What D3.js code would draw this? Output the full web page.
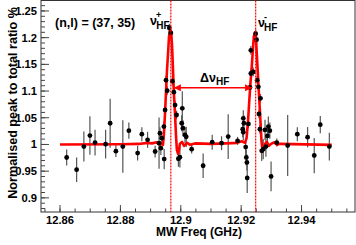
<!DOCTYPE html>
<html>
<head>
<meta charset="utf-8">
<script src="https://cdn.jsdelivr.net/npm/d3@7"></script>
<style>
  body { margin: 0; background: #fff; }
  svg text { font-family: "Liberation Sans", Arial, Helvetica, sans-serif; font-weight: bold; }
</style>
</head>
<body>
<div id="chart"></div>
<script>
// measured points: MW frequency (GHz), normalised ratio, error
var freq = [12.8622, 12.8655, 12.8679, 12.8699, 12.8716, 12.8751, 12.8766, 12.8785, 12.8808, 12.8828,
  12.8857, 12.8871, 12.8890, 12.8915, 12.8928, 12.8931, 12.8937, 12.8934, 12.8945,
  12.8944, 12.8948, 12.8951, 12.8955, 12.8962, 12.8967, 12.8972, 12.8977, 12.8981, 12.8986, 12.8992,
  12.9005, 12.9003, 12.9007, 12.9014, 12.9018, 12.8997, 12.9036, 12.9074, 12.9104, 12.9135,
  12.9157, 12.9188, 12.9205, 12.9209, 12.9207, 12.9215, 12.9217, 12.9219, 12.9220,
  12.9224, 12.9229, 12.9232, 12.9232, 12.9248, 12.9251, 12.9253, 12.9257, 12.9264, 12.9259, 12.9262,
  12.9240, 12.9207,
  12.9268, 12.9273, 12.9279, 12.9282, 12.9287, 12.9290, 12.9295, 12.9299, 12.9318, 12.9354,
  12.9386, 12.9420, 12.9442, 12.9462, 12.9492];
var ratio = [0.9756, 0.9527, 0.9961, 1.0166, 1.0035, 1.0006, 1.0397, 0.9875, 0.9961, 1.0259,
  0.9838, 1.0192, 1.0086, 0.9868, 1.0024, 1.0210, 1.0117, 0.9931, 0.9726,
  1.0334, 1.0645, 1.1204, 1.1008, 1.2182, 1.2089, 1.1185, 1.0980, 1.0738, 1.0552, 0.9732,
  1.0676, 1.0397, 1.0304, 1.0179, 1.0142, 0.9760, 0.9912, 0.9601, 1.0043, 1.0024,
  1.0147, 1.0067, 1.0285, 1.0397, 1.0229, 0.9950, 0.9756, 0.9663, 0.9372,
  1.0384, 1.1068, 1.1329, 1.1763, 1.2074, 1.1962, 1.1204, 1.1079, 1.0863, 1.0570, 1.0285,
  1.1359, 1.0490,
  0.9881, 0.9912, 1.0272, 0.9961, 1.0160, 1.0334, 1.0259, 0.9402, 1.0035, 0.9980,
  1.0192, 1.0136, 0.9793, 1.0371, 0.9961];
var err = [0.015, 0.023, 0.028, 0.036, 0.024, 0.027, 0.046, 0.011, 0.049, 0.015,
  0.014, 0.013, 0.015, 0.011, 0.048, 0.011, 0.011, 0.013, 0.019,
  0.009, 0.008, 0.008, 0.008, 0.008, 0.008, 0.008, 0.008, 0.008, 0.008, 0.015,
  0.032, 0.015, 0.015, 0.015, 0.019, 0.019, 0.008, 0.023, 0.014, 0.013,
  0.042, 0.0075, 0.015, 0.015, 0.015, 0.015, 0.015, 0.015, 0.028,
  0.008, 0.008, 0.008, 0.008, 0.008, 0.008, 0.008, 0.008, 0.008, 0.008, 0.008,
  0.008, 0.015,
  0.019, 0.019, 0.019, 0.019, 0.019, 0.019, 0.015, 0.028, 0.0075, 0.057,
  0.013, 0.019, 0.033, 0.016, 0.026];

// fitted curve
var fitFreq = [12.8600, 12.8800, 12.8860, 12.8890, 12.8905, 12.8920, 12.8930, 12.8938,
  12.8941, 12.8944, 12.8948, 12.8951, 12.8954, 12.8958, 12.8961, 12.8964, 12.8968, 12.8971,
  12.8974, 12.8977, 12.8981, 12.8984, 12.8987, 12.8991, 12.8994, 12.8997, 12.9004, 12.9011,
  12.9021, 12.9031, 12.9047, 12.9100, 12.9150, 12.9186, 12.9202, 12.9213,
  12.9218, 12.9223, 12.9227, 12.9231, 12.9235, 12.9239, 12.9242, 12.9246, 12.9249, 12.9252,
  12.9256, 12.9260, 12.9264, 12.9267, 12.9271, 12.9274, 12.9279, 12.9285, 12.9292, 12.9299,
  12.9309, 12.9319, 12.9328, 12.9500];
var fitRatio = [1.0000, 1.0005, 1.0010, 1.0030, 1.0020, 1.0040, 1.0000, 1.0020,
  0.9993, 1.0179, 1.0608, 1.0980, 1.1353, 1.1726, 1.2024, 1.2136, 1.2117, 1.1856,
  1.1427, 1.0980, 1.0552, 1.0179, 0.9899, 0.9825, 0.9899, 1.0011, 1.0048, 0.9974,
  1.0030, 0.9993, 1.0020, 1.0010, 1.0020, 1.0030, 1.0060, 1.0030,
  1.0123, 1.0458, 1.0831, 1.1167, 1.1447, 1.1800, 1.2024, 1.2098, 1.1986, 1.1669,
  1.1241, 1.0831, 1.0421, 1.0086, 0.9862, 0.9899, 1.0011, 1.0048, 0.9974, 1.0011,
  1.0039, 0.9993, 1.0011, 0.9993];

var peakFreq = [12.8967, 12.9248];
var arrowFreq = [12.8977, 12.9236];
var arrowRatio = 1.1063;

var xTicks = [12.86, 12.88, 12.90, 12.92, 12.94];
var xTickLabels = ["12.86", "12.88", "12.9", "12.92", "12.94"];
var yTicks = [0.90, 0.95, 1.00, 1.05, 1.10, 1.15, 1.20, 1.25];
var yTickLabels = ["0.9", "0.95", "1", "1.05", "1.1", "1.15", "1.2", "1.25"];

var margin = { top: 0.5, right: 1, bottom: 33, left: 41 };
var width = 356 - margin.left - margin.right,
  height = 245 - margin.top - margin.bottom;

var svg = d3.select("#chart").append("svg")
  .attr("width", 356)
  .attr("height", 245);

var g = svg.append("g")
  .attr("transform", "translate(" + margin.left + "," + margin.top + ")");

var x = d3.scaleLinear().domain([12.8537, 12.9577]).range([0, width]);
var y = d3.scaleLinear().domain([0.8735, 1.2696]).range([height, 0]);

// frame
g.append("rect")
  .attr("x", 0).attr("y", 0)
  .attr("width", width).attr("height", height)
  .style("fill", "none").style("stroke", "#333").style("stroke-width", 1);

// x ticks
var xMinor = d3.range(0, 21).map(function(i) { return 12.855 + i * 0.005; })
  .filter(function(v) { return v > x.domain()[0] && v < x.domain()[1]; });
g.selectAll(".xminor").data(xMinor).enter().append("line")
  .attr("x1", function(d) { return x(d); }).attr("x2", function(d) { return x(d); })
  .attr("y1", height).attr("y2", height - 3.5)
  .style("stroke", "#444");
g.selectAll(".xmajor").data(xTicks).enter().append("line")
  .attr("x1", function(d) { return x(d); }).attr("x2", function(d) { return x(d); })
  .attr("y1", height).attr("y2", height - 7)
  .style("stroke", "#444");
g.selectAll(".xlab").data(xTicks).enter().append("text")
  .attr("x", function(d) { return x(d); })
  .attr("y", height + 11.5)
  .attr("text-anchor", "middle")
  .style("font-size", "11.2px")
  .text(function(d, i) { return xTickLabels[i]; });

// y ticks
var yMinor = d3.range(0, 40).map(function(i) { return 0.88 + i * 0.01; })
  .filter(function(v) { return v > y.domain()[0] && v < y.domain()[1]; });
g.selectAll(".yminor").data(yMinor).enter().append("line")
  .attr("x1", 0).attr("x2", 4)
  .attr("y1", function(d) { return y(d); }).attr("y2", function(d) { return y(d); })
  .style("stroke", "#444");
g.selectAll(".ymajor").data(yTicks).enter().append("line")
  .attr("x1", 0).attr("x2", 8)
  .attr("y1", function(d) { return y(d); }).attr("y2", function(d) { return y(d); })
  .style("stroke", "#444");
g.selectAll(".ylab").data(yTicks).enter().append("text")
  .attr("x", -4)
  .attr("y", function(d) { return y(d); })
  .attr("dy", "0.36em")
  .attr("text-anchor", "end")
  .style("font-size", "11.2px")
  .text(function(d, i) { return yTickLabels[i]; });

// axis titles
svg.append("text")
  .attr("x", 242).attr("y", 235.5)
  .attr("text-anchor", "end")
  .style("font-size", "12px")
  .text("MW Freq (GHz)");
svg.append("text")
  .attr("transform", "translate(16.5,7) rotate(-90)")
  .attr("text-anchor", "end")
  .style("font-size", "12.6px")
  .text("Normalised peak to total ratio %");

// error bars and points
var pts = freq.map(function(f, i) { return { f: f, r: ratio[i], e: err[i] }; });
g.selectAll(".err").data(pts).enter().append("line")
  .attr("x1", function(d) { return x(d.f); }).attr("x2", function(d) { return x(d.f); })
  .attr("y1", function(d) { return y(d.r - d.e); }).attr("y2", function(d) { return y(d.r + d.e); })
  .style("stroke", "#555").style("stroke-width", 1.2);

// fit
var line = d3.line()
  .x(function(d) { return x(d[0]); })
  .y(function(d) { return y(d[1]); });
g.append("path")
  .datum(fitFreq.map(function(f, i) { return [f, fitRatio[i]]; }))
  .attr("d", line)
  .style("fill", "none").style("stroke", "#ff0000").style("stroke-width", 2.6)
  .style("stroke-linejoin", "round");

g.selectAll(".pt").data(pts).enter().append("circle")
  .attr("cx", function(d) { return x(d.f); })
  .attr("cy", function(d) { return y(d.r); })
  .attr("r", 2.4)
  .style("fill", "#000");

// peak markers
g.selectAll(".peak").data(peakFreq).enter().append("line")
  .attr("x1", function(d) { return x(d); }).attr("x2", function(d) { return x(d); })
  .attr("y1", 0).attr("y2", height)
  .style("stroke", "#ff0000").style("stroke-width", 1.2)
  .style("stroke-dasharray", "2,1");

// delta arrow
var ay = y(arrowRatio), ax1 = x(arrowFreq[0]), ax2 = x(arrowFreq[1]);
g.append("line")
  .attr("x1", ax1).attr("x2", ax2).attr("y1", ay).attr("y2", ay)
  .style("stroke", "#ff0000").style("stroke-width", 1.4);
g.append("path")
  .attr("d", "M" + ax1 + "," + ay + "l7,-3.5l0,7z")
  .style("fill", "#ff0000");
g.append("path")
  .attr("d", "M" + ax2 + "," + ay + "l-7,-3.5l0,7z")
  .style("fill", "#ff0000");

// labels
svg.append("text")
  .attr("x", 55).attr("y", 27)
  .style("font-size", "12.5px")
  .text("(n,l) = (37, 35)");

function nuLabel(px, py, sup) {
  var t = svg.append("text").attr("x", px).attr("y", py).style("font-size", "12.5px");
  t.append("tspan").text("\u03bd");
  t.append("tspan").attr("dx", -1).attr("dy", -7).style("font-size", "9px").text(sup);
  t.append("tspan").attr("dx", sup === "+" ? -5 : -3).attr("dy", 11).style("font-size", "10px").text("HF");
}
nuLabel(150, 24.5, "+");
nuLabel(258, 27, "-");

var dl = svg.append("text").attr("x", 200).attr("y", 82).style("font-size", "12.5px");
dl.append("tspan").text("\u0394\u03bd");
dl.append("tspan").attr("dy", 3).style("font-size", "10px").text("HF");
</script>
</body>
</html>
